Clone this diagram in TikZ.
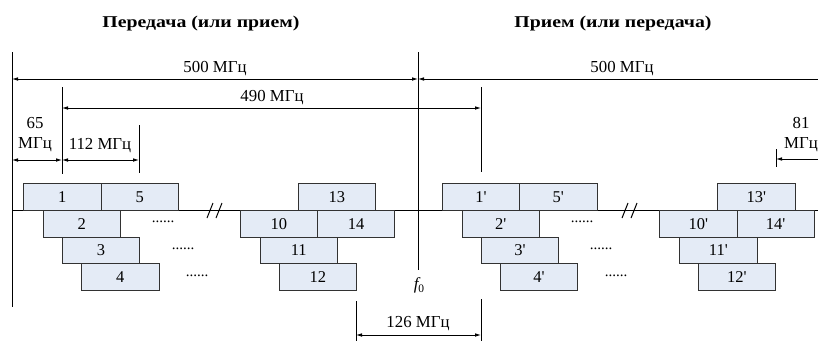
\documentclass[tikz,border=0pt]{standalone}
\usepackage{fontspec}
\setmainfont{Liberation Serif}
\newfontfamily\ttlfont{Liberation Serif}[FakeStretch=1.2]
\usetikzlibrary{arrows.meta}
\definecolor{boxfill}{RGB}{228,235,246}
\definecolor{boxline}{RGB}{50,50,50}
\newcommand{\pr}{\textquotesingle}
\begin{document}
\begin{tikzpicture}[x=1pt,y=-1pt,
  chan/.style={draw=boxline,fill=boxfill,line width=0.8pt,minimum width=77.3pt,minimum height=26.7pt,inner sep=0pt,anchor=north west,font=\fontsize{16.5}{16.5}\selectfont},
  lab/.style={font=\fontsize{16.8}{20}\selectfont,inner sep=0pt,align=center},
  ttl/.style={font=\ttlfont\fontsize{16.5}{18}\selectfont\bfseries,inner sep=0pt},
  dotsn/.style={font=\fontsize{15}{15}\selectfont,inner sep=0pt},
  vline/.style={line width=0.9pt},
  dim/.style={line width=0.8pt,{Latex[length=6pt,width=3.6pt]}-{Latex[length=6pt,width=3.6pt]}},
  dimL/.style={line width=0.8pt,{Latex[length=6pt,width=3.6pt]}-},
  brk/.style={line width=1pt}]
\useasboundingbox (0,0) rectangle (818,341);
% titles
\node[ttl] (t1) at (201,24) {Передача (или прием)};
\node[ttl] (t2) at (613,24) {Прием (или передача)};
% axis
\coordinate (axL) at (12,210);
\coordinate (axR) at (818,210);
\draw[line width=0.9pt] (axL) -- (axR);
% vertical lines
\coordinate (L0t) at (12,52);  \coordinate (L0b) at (12,307);
\coordinate (L1t) at (62,87);  \coordinate (L1b) at (62,174);
\coordinate (L2t) at (139,125); \coordinate (L2b) at (139,173);
\coordinate (F0t) at (418,52); \coordinate (F0b) at (418,270);
\coordinate (R1t) at (481,87); \coordinate (R1b) at (481,172);
\coordinate (B1t) at (356,301); \coordinate (B1b) at (356,341);
\coordinate (B2t) at (481,299); \coordinate (B2b) at (481,341);
\coordinate (T81t) at (776,149); \coordinate (T81b) at (776,167);
\foreach \a in {L0,L1,L2,F0,R1,B1,B2,T81} \draw[vline] (\a t) -- (\a b);
% dimension arrows
\coordinate (d500a) at (12,79); \coordinate (d500b) at (418,79); \coordinate (d500c) at (818,79);
\draw[dim] (d500a) -- (d500b);
\draw[dimL] (d500b) -- (d500c);
\coordinate (d490a) at (62,108); \coordinate (d490b) at (481,108);
\draw[dim] (d490a) -- (d490b);
\coordinate (d65a) at (12,160); \coordinate (d65b) at (62,160); \coordinate (d112b) at (139,160);
\draw[dim] (d65a) -- (d65b);
\draw[dim] (d65b) -- (d112b);
\coordinate (d81a) at (776,159); \coordinate (d81b) at (818,159);
\draw[dimL] (d81a) -- (d81b);
\coordinate (d126a) at (356,335); \coordinate (d126b) at (481,335);
\draw[dim] (d126a) -- (d126b);
% labels
\node[lab] (l500a) at (215,69) {500 МГц};
\node[lab] (l500b) at (622,69) {500 МГц};
\node[lab] (l490) at (272,98) {490 МГц};
\node[lab] (l65) at (35,135) {65\\МГц};
\node[lab] (l112) at (100,146) {112 МГц};
\node[lab] (l81) at (801,135) {81\\МГц};
\node[lab] (l126) at (418,324) {126 МГц};
\node[lab,font=\fontsize{17}{17}\selectfont] (lf0) at (419,285) {\itshape f\raisebox{-0.45ex}{\upshape\fontsize{11.5}{11.5}\selectfont 0}};
% boxes left
\node[chan] (b1) at (23.3,183.3) {1};
\node[chan] (b5) at (100.6,183.3) {5};
\node[chan] (b2) at (42.7,210) {2};
\node[chan] (b3) at (62,236.7) {3};
\node[chan] (b4) at (81.3,263.4) {4};
\node[chan] (b13) at (297.7,183.3) {13};
\node[chan] (b10) at (239.7,210) {10};
\node[chan] (b14) at (317,210) {14};
\node[chan] (b11) at (259.7,236.7) {11};
\node[chan] (b12) at (278.7,263.4) {12};
% boxes right
\node[chan] (c1) at (442,183.3) {1\pr};
\node[chan] (c5) at (519.3,183.3) {5\pr};
\node[chan] (c2) at (461.7,210) {2\pr};
\node[chan] (c3) at (481,236.7) {3\pr};
\node[chan] (c4) at (500,263.4) {4\pr};
\node[chan] (c13) at (717.3,183.3) {13\pr};
\node[chan] (c10) at (659.3,210) {10\pr};
\node[chan] (c14) at (736.6,210) {14\pr};
\node[chan] (c11) at (679.3,236.7) {11\pr};
\node[chan] (c12) at (697.7,263.4) {12\pr};
% dots
\node[dotsn] (o1) at (163,222) {......};
\node[dotsn] (o2) at (183,249) {......};
\node[dotsn] (o3) at (197,276) {......};
\node[dotsn] (p1) at (582,222) {......};
\node[dotsn] (p2) at (601,249) {......};
\node[dotsn] (p3) at (616,276) {......};
% break marks
\coordinate (k1a) at (207,218); \coordinate (k1b) at (213,203);
\coordinate (k2a) at (216,218); \coordinate (k2b) at (222,203);
\coordinate (k3a) at (622,218); \coordinate (k3b) at (628,203);
\coordinate (k4a) at (631,218); \coordinate (k4b) at (637,203);
\draw[brk] (k1a) -- (k1b); \draw[brk] (k2a) -- (k2b);
\draw[brk] (k3a) -- (k3b); \draw[brk] (k4a) -- (k4b);
\end{tikzpicture}
\end{document}
